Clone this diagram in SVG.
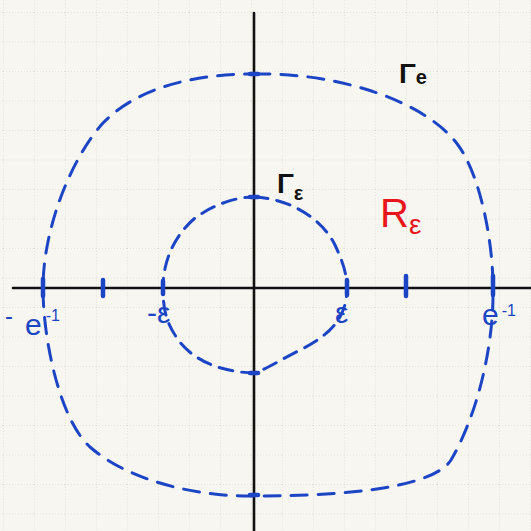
<svg xmlns="http://www.w3.org/2000/svg" width="531" height="531" viewBox="0 0 531 531">
<defs>
<pattern id="grid" x="3" y="12" width="31" height="29.5" patternUnits="userSpaceOnUse">
<path d="M0 0V29.5M0 0H31" fill="none" stroke="#cfcdc6" stroke-width="1" stroke-dasharray="1 2"/>
</pattern>
<style>
.axis{stroke:#111;stroke-width:2.6;fill:none;stroke-linecap:round}
.curve{fill:none;stroke:#1c45c6;stroke-width:3;stroke-linecap:round}
.tick{stroke:#1c45c6;stroke-width:4.5;stroke-linecap:round}
.blue{fill:#1c45c6;font-family:"Liberation Sans","DejaVu Sans",sans-serif}
.black{fill:#111;font-family:"Liberation Sans","DejaVu Sans",sans-serif;font-weight:bold}
.red{fill:#e8151d;font-family:"Liberation Sans","DejaVu Sans",sans-serif}
</style>
</defs>
<rect width="531" height="531" fill="#f8f6f0"/>
<rect width="531" height="531" fill="url(#grid)"/>
<g id="axes">
<line class="axis" x1="13" y1="288" x2="531" y2="288"/>
<line class="axis" x1="254" y1="13" x2="254" y2="531"/>
</g>
<g id="ticks">
<line class="tick" x1="43" y1="279" x2="43" y2="296"/>
<line class="tick" x1="103" y1="280" x2="103" y2="296"/>
<line class="tick" x1="163" y1="281" x2="163" y2="294"/>
<line class="tick" x1="347" y1="280" x2="347" y2="295"/>
<line class="tick" x1="406" y1="276" x2="406" y2="296"/>
<line class="tick" x1="493" y1="276" x2="493" y2="295"/>
<line class="tick" x1="250" y1="74" x2="258" y2="74"/>
<line class="tick" x1="250" y1="197" x2="258" y2="197"/>
<line class="tick" x1="250" y1="373" x2="258" y2="373"/>
<line class="tick" x1="250" y1="495" x2="258" y2="495"/>
</g>
<g id="gamma-e-curve">
<path class="curve" stroke-dasharray="16 11" d="M254 74 C335 72 425 100 458 145 C480 175 493 240 493 288 C494 340 480 410 451 460 C430 492 320 496 254 496 C200 497 130 482 90 447 C60 420 43 340 43 288 C43 230 70 160 103 123 C140 85 200 74 254 74 Z"/>
</g>
<g id="gamma-eps-curve">
<path class="curve" stroke-dasharray="14 9" d="M254 197 C285 198 320 215 335 245 C343 262 347 275 347 288 C347 318 330 335 300 350 C280 360 265 370 254 373 C220 372 190 360 175 335 C165 320 163 305 163 288 C163 260 175 235 195 218 C213 205 235 197 254 197 Z"/>
</g>
<g id="labels">
<text class="black" x="399" y="83" font-size="28">Γ<tspan font-size="20" dy="1">e</tspan></text>
<text class="black" x="277" y="193" font-size="28">Γ<tspan font-size="20" dy="7">ε</tspan></text>
<text class="red" x="380" y="227" font-size="40">R<tspan font-size="28" dy="7">ε</tspan></text>
<text class="blue" x="147" y="323" font-size="30">-ε</text>
<text class="blue" x="335" y="323" font-size="30">ε</text>
<text class="blue" x="5" y="324" font-size="24">-</text>
<text class="blue" x="25" y="335" font-size="30">e<tspan font-size="16" dy="-14" dx="4">-1</tspan></text>
<text class="blue" x="482" y="325" font-size="30">e<tspan font-size="16" dy="-9" dx="3">-1</tspan></text>
</g>
</svg>
